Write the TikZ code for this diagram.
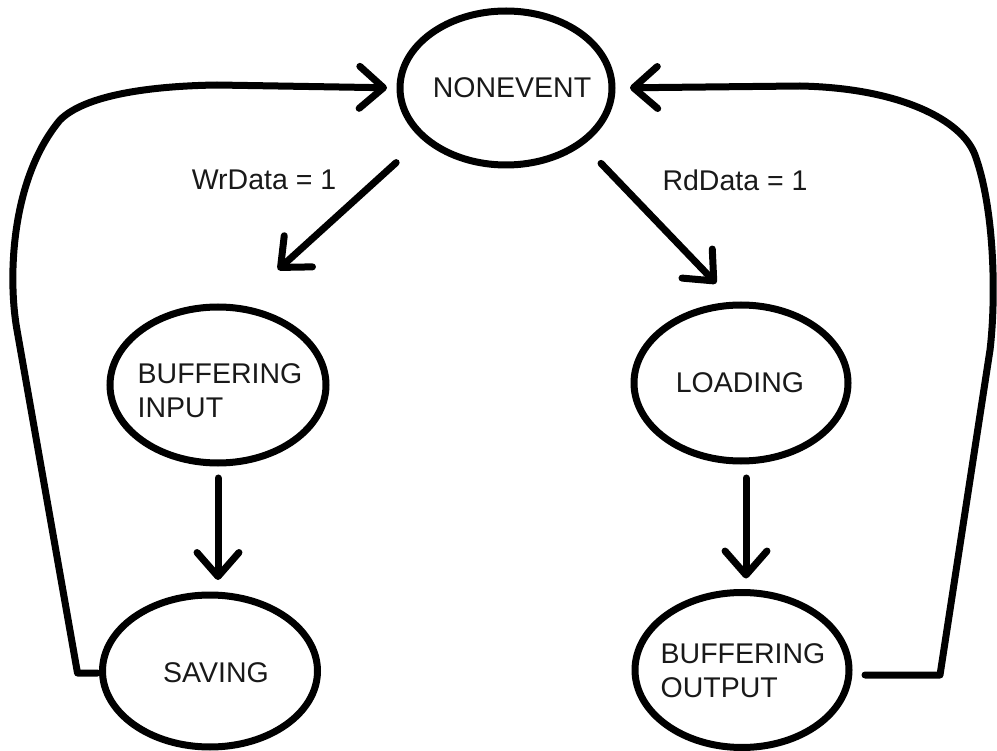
\documentclass[tikz,border=0pt]{standalone}
\usepackage{fontspec}
\setmainfont{Liberation Sans}
\usetikzlibrary{arrows.meta,shapes.geometric}
\begin{document}
\begin{tikzpicture}[x=1pt,y=-1pt,
  state/.style={ellipse, draw, line width=7pt, inner sep=0pt, outer sep=0pt},
  txt/.style={font=\fontsize{28.5}{34}\selectfont, text=black!90, inner sep=0pt, align=left},
  arr/.style={line width=7pt, line cap=round, -{Straight Barb[length=24pt,width=42pt,round]}},
  loopline/.style={line width=7pt, line join=round, line cap=round, -{Straight Barb[length=24pt,width=42pt,round]}}]
\useasboundingbox (0,0) rectangle (997,751);

% states
\node[state, minimum width=212pt, minimum height=154pt] (ne) at (506,88) {};
\node[state, minimum width=216pt, minimum height=156pt] (bi) at (218,385) {};
\node[state, minimum width=214pt, minimum height=156pt] (lo) at (741,383) {};
\node[state, minimum width=215pt, minimum height=152pt] (sav) at (210,671) {};
\node[state, minimum width=214pt, minimum height=155pt] (bo) at (742,670) {};

% state names
\node[txt] (ne-t) at (512,88) {NONEVENT};
\node[txt] (bi-t) at (220,391) {BUFFERING\\INPUT};
\node[txt] (lo-t) at (740,383) {LOADING};
\node[txt] (sav-t) at (216,673) {SAVING};
\node[txt] (bo-t) at (743,671) {BUFFERING\\OUTPUT};

% transition conditions
\node[txt] (wr) at (264,180) {WrData = 1};
\node[txt] (rd) at (735,180) {RdData = 1};

% transitions
\draw[arr, shorten <=38pt, shorten >=57pt] (ne.211.6) -- (bi.77.9);
\draw[arr, shorten <=29pt, shorten >=30pt] (ne.324.8) -- (lo.93.7);
\draw[arr, shorten <=15pt, shorten >=15pt] (bi.south) -- (bi.south |- sav.north);
\draw[arr, shorten <=17pt, shorten >=14pt] ([xshift=5pt]lo.south) -- ([xshift=5pt]lo.south |- bo.north);

% return paths
\draw[loopline, shorten >=13pt] ([shift={(-5,2)}]sav.west) -- ++(-20,0) -- (17,330)
  .. controls (8,280) and (10,180) .. (60,120)
  .. controls (85,95) and (150,86) .. (217,85) -- (ne.west);
\draw[loopline, shorten >=18pt] ([shift={(16,5)}]bo.east) -- (940,675) -- (990,350)
  .. controls (996,300) and (995,210) .. (975,155)
  .. controls (962,120) and (900,88) .. (800,86) -- (ne.east);
\end{tikzpicture}
\end{document}
